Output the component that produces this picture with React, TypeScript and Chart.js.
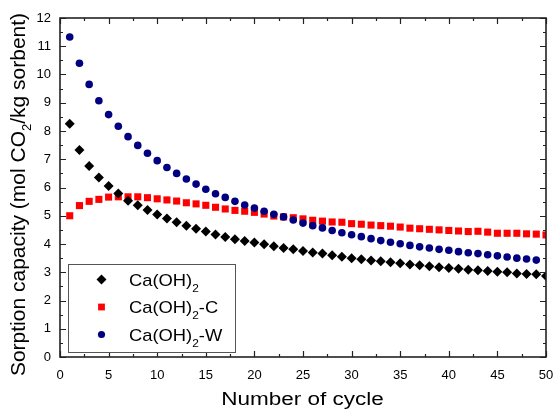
import React, { useEffect, useRef } from "react";
import { Chart, registerables } from "chart.js";

Chart.register(...registerables);

const cycles = [1,2,3,4,5,6,7,8,9,10,11,12,13,14,15,16,17,18,19,20,21,22,23,24,25,26,27,28,29,30,31,32,33,34,35,36,37,38,39,40,41,42,43,44,45,46,47,48,49,50];

const caoh2 = [8.26,7.33,6.76,6.35,6.05,5.79,5.53,5.37,5.20,5.04,4.90,4.77,4.65,4.54,4.44,4.34,4.25,4.17,4.11,4.05,3.99,3.92,3.86,3.81,3.75,3.70,3.66,3.60,3.55,3.50,3.46,3.42,3.39,3.35,3.32,3.27,3.25,3.21,3.18,3.15,3.12,3.09,3.07,3.04,3.02,3.00,2.96,2.94,2.93,2.87];

const caoh2C = [5.00,5.36,5.51,5.58,5.66,5.67,5.67,5.67,5.64,5.60,5.56,5.52,5.46,5.42,5.37,5.30,5.24,5.19,5.16,5.12,5.06,4.99,4.96,4.93,4.89,4.84,4.81,4.78,4.77,4.72,4.70,4.67,4.65,4.63,4.60,4.56,4.54,4.52,4.50,4.48,4.46,4.44,4.45,4.42,4.38,4.38,4.38,4.36,4.35,4.32];

const caoh2W = [11.33,10.40,9.65,9.07,8.58,8.17,7.80,7.49,7.21,6.95,6.71,6.50,6.30,6.12,5.94,5.78,5.65,5.51,5.38,5.27,5.16,5.05,4.96,4.85,4.74,4.65,4.57,4.48,4.40,4.33,4.26,4.19,4.12,4.06,4.01,3.95,3.90,3.86,3.81,3.78,3.73,3.69,3.66,3.62,3.58,3.54,3.50,3.47,3.43];

const xTicks = [0,5,10,15,20,25,30,35,40,45,50];
const yTicks = [0,1,2,3,4,5,6,7,8,9,10,11,12];

const seriesNames = [
  [{ t: "Ca(OH)" }, { t: "2", sub: true }],
  [{ t: "Ca(OH)" }, { t: "2", sub: true }, { t: "-C" }],
  [{ t: "Ca(OH)" }, { t: "2", sub: true }, { t: "-W" }],
];
const xTitle = [{ t: "Number of cycle" }];
const yTitle = [
  { t: "Sorption capacity (mol CO" },
  { t: "2", sub: true },
  { t: "/kg sorbent)" },
];

const FAMILY = '"Liberation Sans", Arial, sans-serif';
const BLACK = "#000000";
const RED = "#ff0000";
const BLUE = "#000080";

type Part = { t: string; sub?: boolean };

function drawRich(
  ctx: CanvasRenderingContext2D,
  parts: Part[],
  x: number,
  y: number,
  size: number,
  align: "left" | "center",
  subSize?: number,
  subDrop?: number
) {
  const sSize = subSize ?? Math.round(size * 0.65);
  const drop = subDrop ?? size * 0.33;
  const mainFont = `${size}px ${FAMILY}`;
  const subFont = `${sSize}px ${FAMILY}`;
  let total = 0;
  const widths: number[] = [];
  for (const p of parts) {
    ctx.font = p.sub ? subFont : mainFont;
    const w = ctx.measureText(p.t).width;
    widths.push(w);
    total += w;
  }
  let cx = align === "center" ? x - total / 2 : x;
  ctx.textAlign = "left";
  ctx.textBaseline = "alphabetic";
  parts.forEach((p, i) => {
    ctx.font = p.sub ? subFont : mainFont;
    ctx.fillText(p.t, cx, y + (p.sub ? drop : 0));
    cx += widths[i];
  });
}

function drawMarker(ctx: CanvasRenderingContext2D, style: string, x: number, y: number, r: number, color: string) {
  ctx.fillStyle = color;
  ctx.beginPath();
  if (style === "rectRot") {
    ctx.moveTo(x, y - r);
    ctx.lineTo(x + r, y);
    ctx.lineTo(x, y + r);
    ctx.lineTo(x - r, y);
    ctx.closePath();
  } else if (style === "rect") {
    const s = r * Math.SQRT1_2;
    ctx.rect(x - s, y - s, 2 * s, 2 * s);
  } else {
    ctx.arc(x, y, r, 0, Math.PI * 2);
  }
  ctx.fill();
}

const decorPlugin = {
  id: "decor",
  afterDraw(chart: any) {
    const ctx: CanvasRenderingContext2D = chart.ctx;
    const { left, right, top, bottom } = chart.chartArea;
    const xs = chart.scales.x;
    const ys = chart.scales.y;
    ctx.save();
    // frame
    ctx.strokeStyle = "#222";
    ctx.lineWidth = 1.6;
    ctx.strokeRect(left, top, right - left, bottom - top);
    // ticks
    ctx.lineWidth = 1.2;
    ctx.beginPath();
    for (let v = 0; v <= 50 + 1e-9; v += 2.5) {
      const px = Math.round(xs.getPixelForValue(v)) + 0.5;
      const major = Math.abs(v % 5) < 1e-6;
      const len = major ? 6 : 3;
      ctx.moveTo(px, bottom);
      ctx.lineTo(px, bottom - len);
      ctx.moveTo(px, top);
      ctx.lineTo(px, top + len);
    }
    for (let v = 0; v <= 12 + 1e-9; v += 0.5) {
      const py = Math.round(ys.getPixelForValue(v)) + 0.5;
      const major = Math.abs(v % 1) < 1e-6;
      const len = major ? 6 : 3;
      ctx.moveTo(left, py);
      ctx.lineTo(left + len, py);
      ctx.moveTo(right, py);
      ctx.lineTo(right - len, py);
    }
    ctx.stroke();

    // legend
    ctx.fillStyle = "#fff";
    ctx.fillRect(68.5, 264.5, 167, 88);
    ctx.strokeStyle = "#555";
    ctx.lineWidth = 1;
    ctx.strokeRect(68.5, 264.5, 167, 88);
    const styles = ["rectRot", "rect", "circle"];
    const colors = [BLACK, RED, BLUE];
    const radii = [5, 4.8, 3.6];
    const rowsY = [279.5, 307, 334.5];
    for (let i = 0; i < 3; i++) {
      drawMarker(ctx, styles[i], 101.5, rowsY[i], radii[i], colors[i]);
      ctx.fillStyle = "#000";
      ctx.save();
      ctx.translate(129, rowsY[i] + 6);
      ctx.scale(1.08, 1);
      drawRich(ctx, seriesNames[i], 0, 0, 17, "left", 11, 6);
      ctx.restore();
    }

    // x title
    ctx.fillStyle = "#000";
    ctx.save();
    ctx.translate(302.5, 405);
    ctx.scale(1.25, 1);
    drawRich(ctx, xTitle, 0, 0, 18, "center");
    ctx.restore();

    // y title
    ctx.save();
    ctx.translate(25, 194.5);
    ctx.rotate(-Math.PI / 2);
    drawRich(ctx, yTitle, 0, 0, 21, "center", 13, 6);
    ctx.restore();

    ctx.restore();
  },
};

export default function App() {
  const ref = useRef<HTMLCanvasElement | null>(null);
  useEffect(() => {
    if (!ref.current) return;
    const mk = (arr: number[]) => arr.map((v, i) => ({ x: cycles[i], y: v }));
    const chart = new Chart(ref.current, {
      type: "line",
      data: {
        datasets: [
          {
            label: "Ca(OH)2",
            data: mk(caoh2),
            showLine: false,
            pointStyle: "rectRot",
            pointRadius: 5,
            pointBorderWidth: 0,
            backgroundColor: BLACK,
            borderColor: BLACK,
            order: 0,
          },
          {
            label: "Ca(OH)2-C",
            data: mk(caoh2C),
            showLine: false,
            pointStyle: "rect",
            pointRadius: 5,
            pointBorderWidth: 0,
            backgroundColor: RED,
            borderColor: RED,
            order: 2,
          },
          {
            label: "Ca(OH)2-W",
            data: mk(caoh2W),
            showLine: false,
            pointStyle: "circle",
            pointRadius: 3.8,
            pointBorderWidth: 0,
            backgroundColor: BLUE,
            borderColor: BLUE,
            order: 1,
          },
        ],
      },
      options: {
        responsive: false,
        animation: false,
        layout: { padding: { top: 18, right: 11, left: 0, bottom: 0 } },
        plugins: {
          legend: { display: false },
          tooltip: { enabled: false },
          title: { display: false },
        },
        scales: {
          x: {
            type: "linear",
            min: 0,
            max: 50,
            afterFit: (s: any) => {
              s.height = 52;
              s.paddingLeft = 0;
              s.paddingRight = 0;
            },
            afterBuildTicks: (s: any) => {
              s.ticks = xTicks.map((v) => ({ value: v }));
            },
            grid: { display: false, drawTicks: false },
            border: { display: false },
            ticks: {
              padding: 11,
              color: "#000",
              font: { family: FAMILY, size: 13 },
              maxRotation: 0,
            },
          },
          y: {
            type: "linear",
            min: 0,
            max: 12,
            afterFit: (s: any) => {
              s.width = 60;
              s.paddingTop = 0;
              s.paddingBottom = 0;
            },
            afterBuildTicks: (s: any) => {
              s.ticks = yTicks.map((v) => ({ value: v }));
            },
            grid: { display: false, drawTicks: false },
            border: { display: false },
            ticks: {
              padding: 9,
              color: "#000",
              font: { family: FAMILY, size: 13 },
            },
          },
        },
      },
      plugins: [decorPlugin],
    });
    return () => chart.destroy();
  }, []);
  return (
    <div style={{ position: "absolute", left: 0, top: 0, width: 557, height: 409, background: "#fff" }}>
      <canvas ref={ref} width={557} height={409} style={{ display: "block", width: 557, height: 409 }} />
    </div>
  );
}
